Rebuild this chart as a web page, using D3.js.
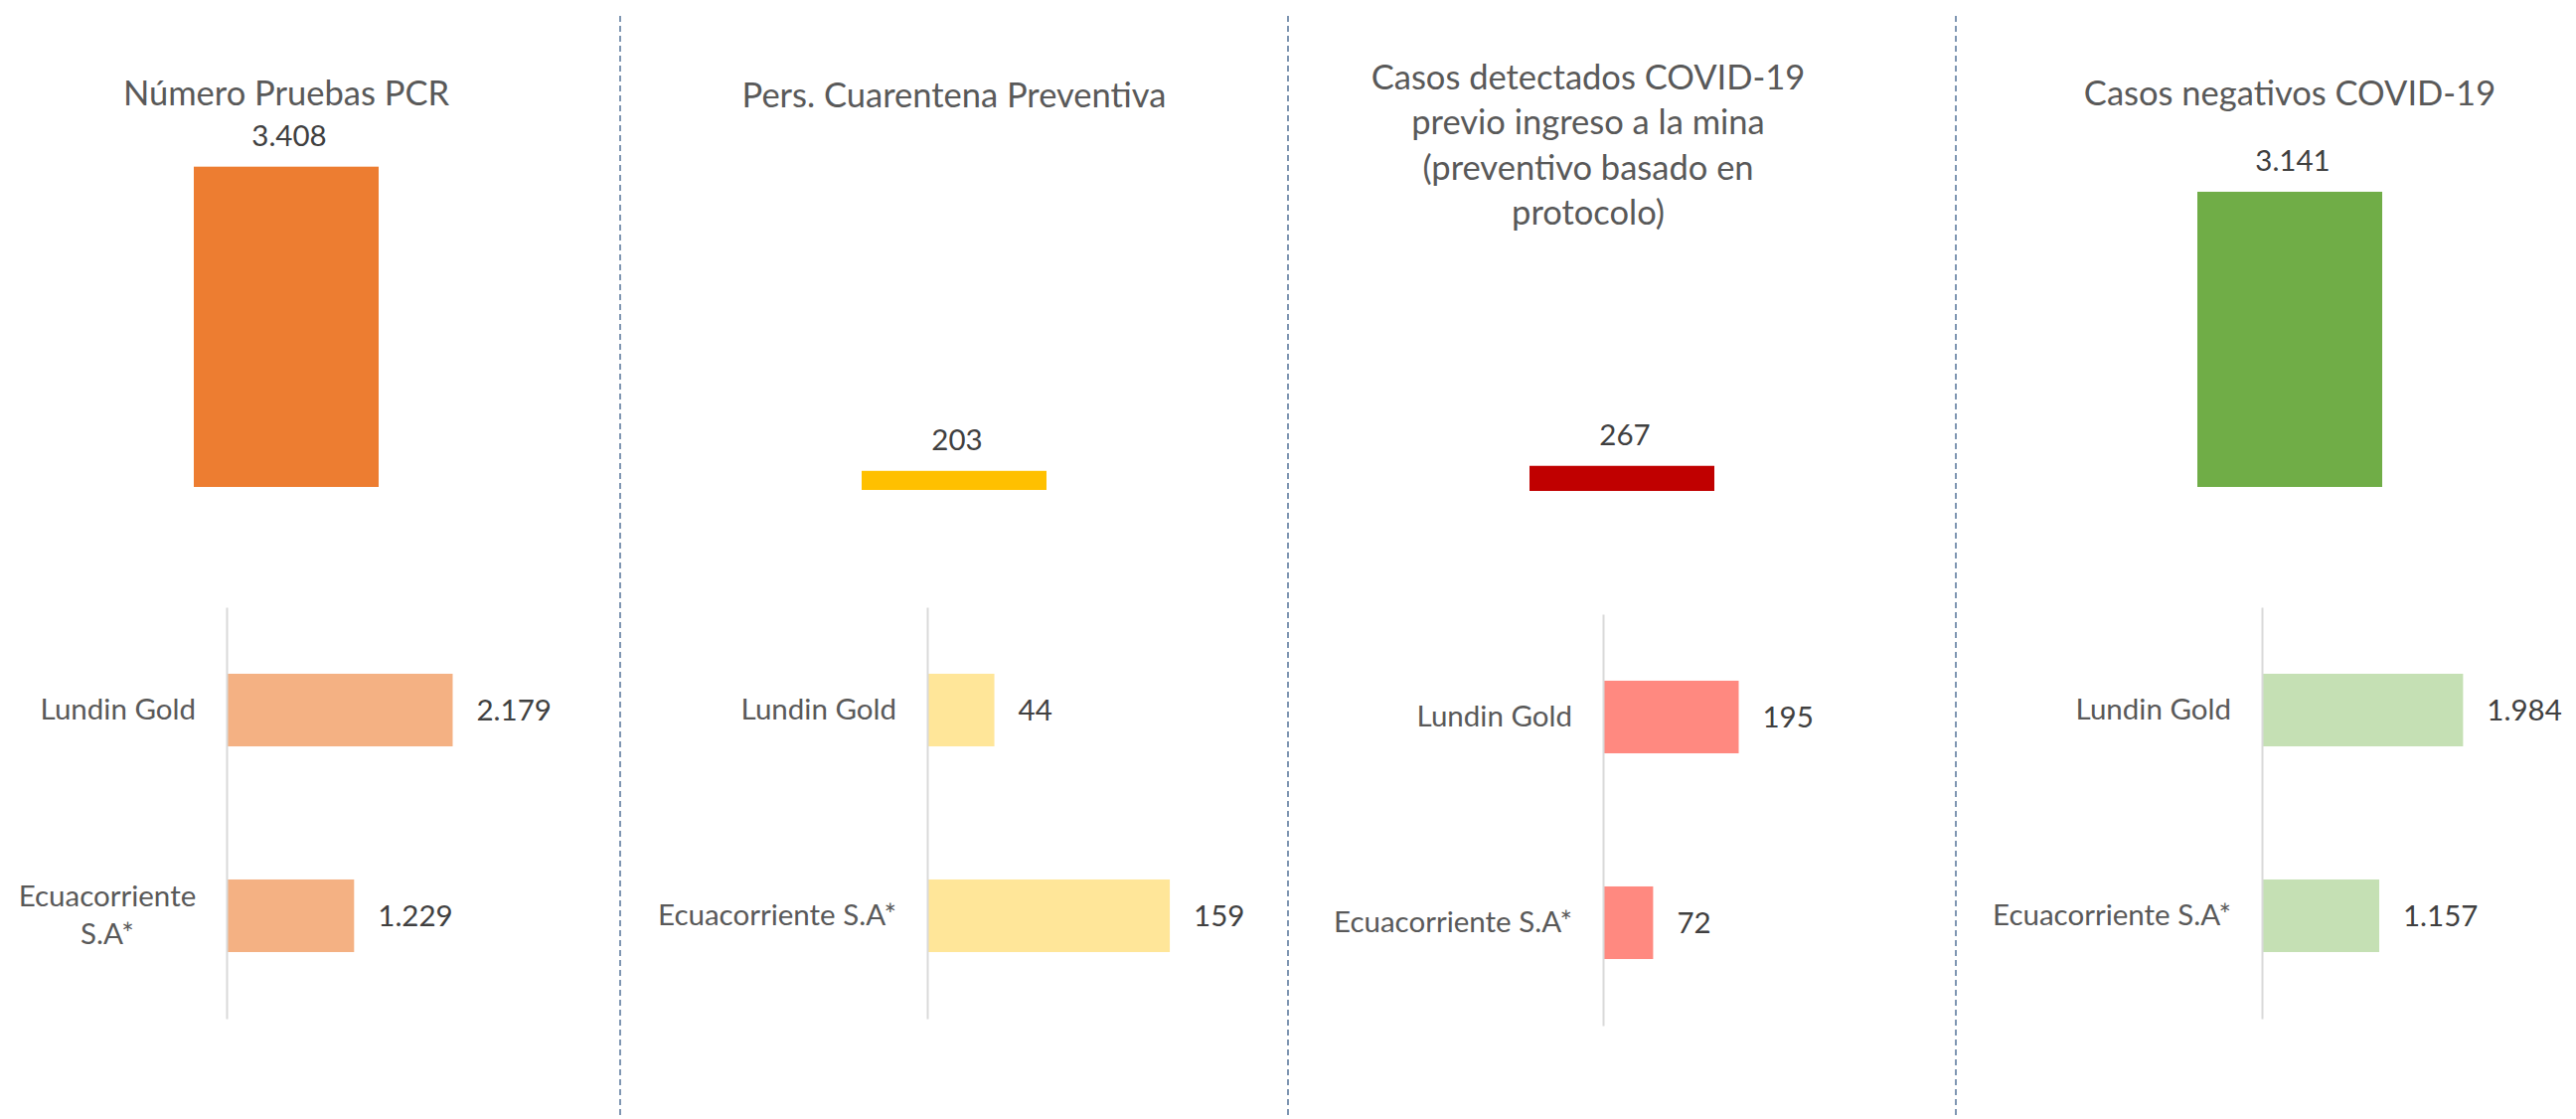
<!DOCTYPE html>
<html>
<head>
<meta charset="utf-8">
<script src="https://cdn.jsdelivr.net/npm/d3@7"></script>
<style>
  html, body { margin: 0; padding: 0; background: #fff; }
  svg text { font-family: Lato, "Open Sans", sans-serif; }
</style>
</head>
<body>
<div id="chart"></div>
<script>
// Datos
const titles = [
  ["Número Pruebas PCR"],
  ["Pers. Cuarentena Preventiva"],
  ["Casos detectados COVID-19", "previo ingreso a la mina", "(preventivo basado en", "protocolo)"],
  ["Casos negativos COVID-19"]
];
const totals = [3408, 203, 267, 3141];
const companies = ["Lundin Gold", "Ecuacorriente S.A*"];
const lundinValues = [2179, 44, 195, 1984];
const ecuaValues = [1229, 159, 72, 1157];
const axisMax = [2500, 200, 250, 2500];

const topColors = ["#ED7D31", "#FFC000", "#C00000", "#70AD47"];
const bottomColors = ["#F4B183", "#FFE699", "#FF8980", "#C5E0B4"];

// Layout
const width = 2592, height = 1126;
const panelW = 672, firstCenter = 288;
const topBase = [490, 493, 494, 490];
const titleBase = [106, 108, 89.5, 106];
const titleShift = [0, 0, -34, 0];
const bottomTop = [611, 611, 618, 611];
const axisShift = [-60, -27, -19, -28];
const plotW = [261, 307, 175, 255];

const fmt = d3.formatLocale({decimal: ",", thousands: ".", grouping: [3], currency: ["$", ""]}).format(",d");

const svg = d3.select("#chart").append("svg")
  .attr("width", width)
  .attr("height", height);

// Separadores
svg.selectAll(".sep")
  .data([0, 1, 2])
  .enter()
  .append("line")
    .attr("class", "sep")
    .attr("x1", i => firstCenter + panelW * i + panelW / 2)
    .attr("x2", i => firstCenter + panelW * i + panelW / 2)
    .attr("y1", 16)
    .attr("y2", height)
    .attr("stroke", "#7F96B2")
    .attr("stroke-width", 2)
    .attr("stroke-dasharray", "6,4");

titles.forEach((title, i) => {
  const cx = firstCenter + panelW * i;
  const g = svg.append("g");

  // Título
  const t = g.append("text")
    .attr("x", cx + titleShift[i])
    .attr("y", titleBase[i])
    .attr("text-anchor", "middle")
    .style("font-size", "34.5px")
    .style("fill", "#595959");
  t.selectAll("tspan")
    .data(title)
    .enter()
    .append("tspan")
      .attr("x", cx + titleShift[i])
      .attr("dy", (d, k) => k === 0 ? 0 : 45.5)
      .text(d => d);

  // Barra total
  const x = d3.scaleBand().domain(["total"]).range([cx - 93, cx + 93]);
  const y = d3.scaleLinear().domain([0, 3500]).range([topBase[i], topBase[i] - 331]);

  g.append("rect")
    .attr("x", x("total"))
    .attr("y", y(totals[i]))
    .attr("width", x.bandwidth())
    .attr("height", y(0) - y(totals[i]))
    .attr("fill", topColors[i]);

  g.append("text")
    .attr("x", x("total") + x.bandwidth() / 2 + 3)
    .attr("y", y(totals[i]) - 20.5)
    .attr("text-anchor", "middle")
    .style("font-size", "29.5px")
    .style("fill", "#404040")
    .text(fmt(totals[i]));

  // Barras por empresa
  const axisX = cx + axisShift[i];
  const values = [lundinValues[i], ecuaValues[i]];
  const yb = d3.scaleBand()
    .domain(companies)
    .range([bottomTop[i], bottomTop[i] + 414])
    .paddingInner(0.647)
    .paddingOuter(0.3235);
  const xb = d3.scaleLinear().domain([0, axisMax[i]]).range([axisX, axisX + plotW[i]]);

  g.selectAll(".bar")
    .data(companies)
    .enter()
    .append("rect")
      .attr("x", xb(0))
      .attr("y", d => yb(d))
      .attr("width", (d, k) => xb(values[k]) - xb(0))
      .attr("height", yb.bandwidth())
      .attr("fill", bottomColors[i]);

  g.selectAll(".val")
    .data(companies)
    .enter()
    .append("text")
      .attr("x", (d, k) => xb(values[k]) + 24)
      .attr("y", d => yb(d) + yb.bandwidth() / 2)
      .attr("dy", "0.35em")
      .style("font-size", "29.5px")
      .style("fill", "#404040")
      .text((d, k) => fmt(values[k]));

  // Eje
  const axis = g.append("g")
    .attr("transform", `translate(${axisX},0)`)
    .call(d3.axisLeft(yb).tickSize(0).tickSizeOuter(0).tickPadding(31));
  axis.select(".domain").attr("stroke", "#D9D9D9").attr("stroke-width", 2);
  axis.selectAll("text")
    .style("font-size", "29.5px")
    .style("font-family", "Lato, 'Open Sans', sans-serif")
    .style("fill", "#595959");

  // Ajuste de etiquetas largas
  const panelLeft = Math.max(cx - panelW / 2, 0) + 8;
  axis.selectAll(".tick text").each(function(d) {
    const el = d3.select(this);
    const avail = axisX - 31 - panelLeft;
    if (this.getComputedTextLength() > avail) {
      const cut = d.lastIndexOf(" ");
      const lines = [d.slice(0, cut), d.slice(cut + 1)];
      el.text(null);
      const spans = lines.map((line, k) => el.append("tspan")
        .attr("dy", k === 0 ? "-0.32em" : "38px")
        .text(line));
      const maxW = d3.max(spans, s => s.node().getComputedTextLength());
      el.attr("text-anchor", "middle");
      spans.forEach(s => s.attr("x", -31 - maxW / 2));
      el.attr("dy", null);
      spans[0].attr("dy", null).attr("y", 9 - 19);
      spans[1].attr("dy", null).attr("y", 9 + 19);
    }
  });
});
</script>
</body>
</html>
